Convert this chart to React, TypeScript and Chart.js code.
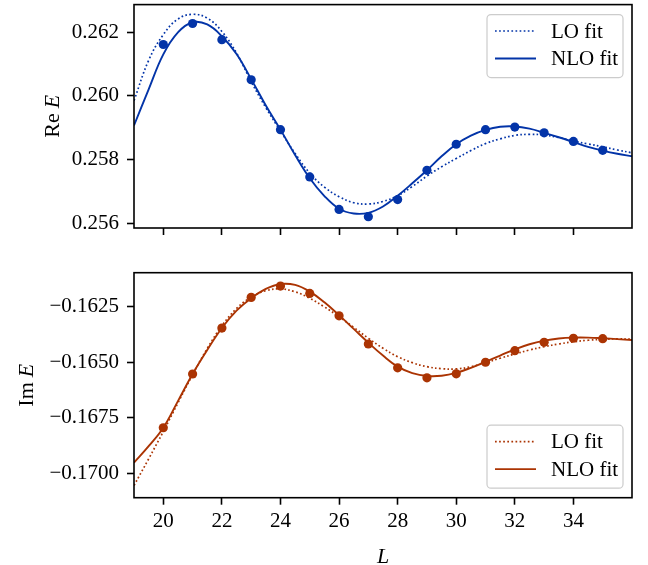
import React, { useEffect, useRef } from "react";
import { Chart, registerables } from "chart.js";

Chart.register(...registerables);

const FONT = "'Liberation Serif', 'Times New Roman', Times, serif";

// ---- data ----
const L_DATA = [20, 21, 22, 23, 24, 25, 26, 27, 28, 29, 30, 31, 32, 33, 34, 35];
const RE_DATA = [
  0.26162, 0.26228, 0.26177, 0.26051, 0.25894, 0.25745, 0.25643, 0.2562,
  0.25674, 0.25766, 0.25848, 0.25894, 0.25902, 0.25884, 0.25857, 0.25829,
];
const IM_DATA = [
  -0.16795, -0.16553, -0.16346, -0.16208, -0.16157, -0.1619, -0.16291, -0.16418,
  -0.16525, -0.1657, -0.16552, -0.165, -0.16448, -0.1641, -0.16392, -0.16394,
];

const L_FIT = [
  19, 19.5, 20, 20.5, 21, 21.5, 22, 22.5, 23, 23.5, 24, 24.5, 25, 25.5, 26, 26.5,
  27, 27.5, 28, 28.5, 29, 29.5, 30, 30.5, 31, 31.5, 32, 32.5, 33, 33.5, 34, 34.5,
  35, 35.5, 36,
];
const RE_LO = [
  0.25985, 0.26112, 0.26193, 0.26242, 0.26257, 0.26245, 0.26203, 0.26135, 0.26045,
  0.25963, 0.2589, 0.25819, 0.25757, 0.25713, 0.25683, 0.25664, 0.2566, 0.25668,
  0.25686, 0.25715, 0.25748, 0.25777, 0.25803, 0.25828, 0.2585, 0.25865, 0.25876,
  0.25879, 0.25877, 0.25869, 0.25858, 0.25849, 0.2584, 0.2583, 0.25821,
];
const RE_NLO = [
  0.25907, 0.26021, 0.26131, 0.262, 0.26232, 0.26225, 0.26188, 0.26132, 0.26053,
  0.2597, 0.25894, 0.25814, 0.25741, 0.25685, 0.25645, 0.2563, 0.25632, 0.25652,
  0.25686, 0.25725, 0.25766, 0.2581, 0.25848, 0.25875, 0.25893, 0.25903, 0.25904,
  0.25897, 0.25884, 0.2587, 0.25855, 0.2584, 0.25828, 0.25818, 0.2581,
];
const IM_LO = [
  -0.17055, -0.16935, -0.16812, -0.16683, -0.16556, -0.16438, -0.16336, -0.16258,
  -0.16207, -0.16178, -0.1617, -0.16183, -0.16212, -0.16251, -0.16295, -0.16343,
  -0.16392, -0.16437, -0.16475, -0.16502, -0.1652, -0.16529, -0.1653, -0.1652,
  -0.16502, -0.16482, -0.16463, -0.16445, -0.1643, -0.16418, -0.16408, -0.16401,
  -0.16397, -0.16395, -0.16396,
];
const IM_NLO = [
  -0.16952, -0.16878, -0.16795, -0.16675, -0.16553, -0.16445, -0.16346, -0.16268,
  -0.16212, -0.1617, -0.16148, -0.16152, -0.16182, -0.1623, -0.16288, -0.1635,
  -0.16412, -0.1647, -0.1652, -0.16549, -0.16562, -0.16561, -0.16548, -0.16525,
  -0.16498, -0.1647, -0.16442, -0.16419, -0.16403, -0.16393, -0.16389, -0.16389,
  -0.16392, -0.16396, -0.164,
];

const X_TICKS = [20, 22, 24, 26, 28, 30, 32, 34];
const RE_TICKS = [0.256, 0.258, 0.26, 0.262];
const IM_TICKS = [-0.17, -0.1675, -0.165, -0.1625];

const BLUE = "#0334a8";
const RED = "#ab3403";

type Panel = {
  points: number[];
  lo: number[];
  nlo: number[];
  color: string;
  yMin: number;
  yMax: number;
  yTicks: number[];
  fmt: (v: number) => string;
  showXLabels: boolean;
  padTop: number;
  xAxisHeight: number;
  yLabel: [string, string];
  yLabelX: number;
  legendAtTop: boolean;
};

function buildChart(canvas: HTMLCanvasElement, p: Panel) {
  const decor = {
    id: "decor",
    afterDraw(chart: any) {
      const { ctx, chartArea: a } = chart;
      ctx.save();
      // frame
      ctx.strokeStyle = "#000";
      ctx.lineWidth = 1.6;
      ctx.setLineDash([]);
      ctx.strokeRect(a.left, a.top, a.right - a.left, a.bottom - a.top);

      // legend
      const bw = 136;
      const bh = 63;
      const bx = a.right - 9 - bw;
      const by = p.legendAtTop ? a.top + 10 : a.bottom - 9.5 - bh;
      const r = 4;
      ctx.beginPath();
      ctx.moveTo(bx + r, by);
      ctx.arcTo(bx + bw, by, bx + bw, by + bh, r);
      ctx.arcTo(bx + bw, by + bh, bx, by + bh, r);
      ctx.arcTo(bx, by + bh, bx, by, r);
      ctx.arcTo(bx, by, bx + bw, by, r);
      ctx.closePath();
      ctx.fillStyle = "rgba(255,255,255,0.8)";
      ctx.fill();
      ctx.strokeStyle = "#cccccc";
      ctx.lineWidth = 1.2;
      ctx.stroke();
      const fits = chart.data.datasets.filter((d: any) => d.label !== "data");
      fits.forEach((ds: any, i: number) => {
        const ry = by + 16.4 + i * 27.5;
        ctx.beginPath();
        ctx.setLineDash(ds.borderDash || []);
        ctx.strokeStyle = ds.borderColor;
        ctx.lineWidth = ds.borderWidth;
        ctx.moveTo(bx + 8, ry);
        ctx.lineTo(bx + 49, ry);
        ctx.stroke();
        ctx.setLineDash([]);
        ctx.fillStyle = "#000";
        ctx.font = `21px ${FONT}`;
        ctx.textAlign = "left";
        ctx.textBaseline = "middle";
        ctx.fillText(ds.label, bx + 64, ry + 1);
      });

      // y label (rotated), "Re" upright + italic "E"
      const cy = (a.top + a.bottom) / 2;
      ctx.translate(p.yLabelX, cy);
      ctx.rotate(-Math.PI / 2);
      ctx.fillStyle = "#000";
      ctx.textBaseline = "alphabetic";
      ctx.textAlign = "left";
      const upFont = `22px ${FONT}`;
      const itFont = `italic 22px ${FONT}`;
      ctx.font = upFont;
      const w1 = ctx.measureText(p.yLabel[0]).width;
      ctx.font = itFont;
      const w2 = ctx.measureText(p.yLabel[1]).width;
      const gap = 5;
      const total = w1 + gap + w2;
      ctx.font = upFont;
      ctx.fillText(p.yLabel[0], -total / 2, 0);
      ctx.font = itFont;
      ctx.fillText(p.yLabel[1], -total / 2 + w1 + gap, 0);
      ctx.setTransform(1, 0, 0, 1, 0, 0);

      if (p.showXLabels) {
        ctx.font = `italic 22px ${FONT}`;
        ctx.textAlign = "center";
        ctx.textBaseline = "alphabetic";
        ctx.fillText("L", (a.left + a.right) / 2, chart.height - 2);
      }
      ctx.restore();
    },
  };

  return new Chart(canvas, {
    type: "line",
    data: {
      datasets: [
        {
          label: "data",
          data: L_DATA.map((x, i) => ({ x, y: p.points[i] })),
          showLine: false,
          pointRadius: 4.6,
          pointBackgroundColor: p.color,
          pointBorderWidth: 0,
          borderColor: p.color,
          order: 0,
        },
        {
          label: "LO fit",
          data: L_FIT.map((x, i) => ({ x, y: p.lo[i] })),
          borderColor: p.color,
          borderWidth: 1.7,
          borderDash: [1.7, 2.4],
          pointRadius: 0,
          tension: 0.4,
          fill: false,
          order: 2,
        },
        {
          label: "NLO fit",
          data: L_FIT.map((x, i) => ({ x, y: p.nlo[i] })),
          borderColor: p.color,
          borderWidth: 1.9,
          pointRadius: 0,
          tension: 0.4,
          fill: false,
          order: 1,
        },
      ],
    },
    options: {
      responsive: false,
      animation: false,
      events: [],
      layout: { padding: { left: 0, right: 16, top: p.padTop, bottom: 0 } },
      plugins: { legend: { display: false }, tooltip: { enabled: false } },
      scales: {
        x: {
          type: "linear",
          min: 19,
          max: 36,
          afterBuildTicks: (s: any) => {
            s.ticks = X_TICKS.map((v) => ({ value: v }));
          },
          afterFit: (s: any) => {
            s.height = p.xAxisHeight;
            s.paddingLeft = 0;
            s.paddingRight = 0;
            s.paddingTop = 0;
            s.paddingBottom = 0;
          },
          border: { display: false },
          grid: {
            drawOnChartArea: false,
            drawTicks: true,
            tickLength: 7,
            tickWidth: 1.6,
            tickColor: "#000",
          },
          ticks: {
            autoSkip: false,
            maxRotation: 0,
            padding: 4,
            color: "#000",
            font: { family: FONT, size: 21 },
            callback: (v: any) => (p.showXLabels ? String(v) : ""),
          },
        },
        y: {
          type: "linear",
          min: p.yMin,
          max: p.yMax,
          afterBuildTicks: (s: any) => {
            s.ticks = p.yTicks.map((v) => ({ value: v }));
          },
          afterFit: (s: any) => {
            s.width = 134;
            s.paddingTop = 0;
            s.paddingBottom = 0;
            s.paddingLeft = 0;
            s.paddingRight = 0;
          },
          border: { display: false },
          grid: {
            drawOnChartArea: false,
            drawTicks: true,
            tickLength: 7,
            tickWidth: 1.6,
            tickColor: "#000",
          },
          ticks: {
            autoSkip: false,
            padding: 8,
            color: "#000",
            font: { family: FONT, size: 21 },
            callback: (v: any) => p.fmt(Number(v)),
          },
        },
      },
    },
    plugins: [decor],
  } as any);
}

export default function App() {
  const topRef = useRef<HTMLCanvasElement>(null);
  const botRef = useRef<HTMLCanvasElement>(null);

  useEffect(() => {
    const top = buildChart(topRef.current!, {
      points: RE_DATA,
      lo: RE_LO,
      nlo: RE_NLO,
      color: BLUE,
      yMin: 0.255844,
      yMax: 0.262875,
      yTicks: RE_TICKS,
      fmt: (v) => v.toFixed(3),
      showXLabels: false,
      padTop: 3,
      xAxisHeight: 32,
      yLabel: ["Re", "E"],
      yLabelX: 59,
      legendAtTop: true,
    });
    const bot = buildChart(botRef.current!, {
      points: IM_DATA,
      lo: IM_LO,
      nlo: IM_NLO,
      color: RED,
      yMin: -0.171099,
      yMax: -0.160969,
      yTicks: IM_TICKS,
      fmt: (v) => (v < 0 ? "\u2212" : "") + Math.abs(v).toFixed(4),
      showXLabels: true,
      padTop: 12.7,
      xAxisHeight: 67.3,
      yLabel: ["Im", "E"],
      yLabelX: 33,
      legendAtTop: false,
    });
    return () => {
      top.destroy();
      bot.destroy();
    };
  }, []);

  return (
    <div style={{ position: "absolute", left: 0, top: 0, width: 648, height: 565, background: "#fff" }}>
      <canvas
        ref={topRef}
        width={648}
        height={260}
        style={{ position: "absolute", left: 0, top: 0, width: 648, height: 260 }}
      />
      <canvas
        ref={botRef}
        width={648}
        height={305}
        style={{ position: "absolute", left: 0, top: 260, width: 648, height: 305 }}
      />
    </div>
  );
}
